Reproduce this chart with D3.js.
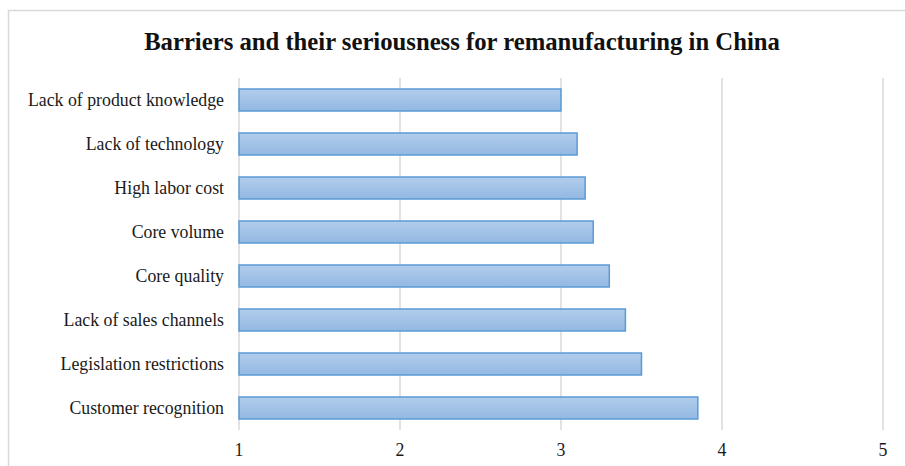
<!DOCTYPE html>
<html>
<head>
<meta charset="utf-8">
<script src="https://cdn.jsdelivr.net/npm/d3@7"></script>
<style>
  body { margin: 0; background: #fff; }
  svg { display: block; }
</style>
</head>
<body>
<div id="chart"></div>
<script>
const categories = [
  "Lack of product knowledge",
  "Lack of technology",
  "High labor cost",
  "Core volume",
  "Core quality",
  "Lack of sales channels",
  "Legislation restrictions",
  "Customer recognition"
];
const values = [3.0, 3.1, 3.15, 3.2, 3.3, 3.4, 3.5, 3.85];
const ticks = [1, 2, 3, 4, 5];

const W = 905, H = 466;
const margin = { top: 78, right: 22, bottom: 36, left: 239 };
const FONT = "'Liberation Serif', 'Times New Roman', serif";

const svg = d3.select("#chart").append("svg")
  .attr("width", W)
  .attr("height", H);

// chart border
svg.append("rect")
  .attr("x", 8.5).attr("y", 10.5)
  .attr("width", W).attr("height", H)
  .attr("fill", "none")
  .attr("stroke", "#d9d9d9")
  .attr("stroke-width", 1.5);

const grad = svg.append("defs").append("linearGradient")
  .attr("id", "barGrad")
  .attr("x1", 0).attr("y1", 0).attr("x2", 0).attr("y2", 1);
grad.append("stop").attr("offset", "0%").attr("stop-color", "#b1cdec");
grad.append("stop").attr("offset", "100%").attr("stop-color", "#93b8e2");

const x = d3.scaleLinear().domain([1, 5]).range([margin.left, W - margin.right]);
const y = d3.scaleBand().domain(categories)
  .range([margin.top, H - margin.bottom])
  .paddingInner(0.5).paddingOuter(0.25);

// gridlines
svg.append("g").selectAll("line")
  .data(ticks)
  .join("line")
  .attr("x1", d => x(d)).attr("x2", d => x(d))
  .attr("y1", margin.top).attr("y2", H - margin.bottom)
  .attr("stroke", "#d9d9d9")
  .attr("stroke-width", 1.5);

// bars
svg.append("g").selectAll("rect")
  .data(categories)
  .join("rect")
  .attr("x", x(1))
  .attr("y", d => y(d))
  .attr("width", (d, i) => x(values[i]) - x(1))
  .attr("height", y.bandwidth())
  .attr("fill", "url(#barGrad)")
  .attr("stroke", "#5b9bd5")
  .attr("stroke-width", 1.5);

// category labels
svg.append("g").selectAll("text")
  .data(categories)
  .join("text")
  .attr("x", margin.left - 15)
  .attr("y", d => y(d) + y.bandwidth() / 2)
  .attr("dy", "0.35em")
  .attr("text-anchor", "end")
  .style("font-family", FONT)
  .style("font-size", "17.8px")
  .style("fill", "#1a1a1a")
  .text(d => d);

// x axis labels
svg.append("g").selectAll("text")
  .data(ticks)
  .join("text")
  .attr("x", d => x(d))
  .attr("y", H - margin.bottom + 26)
  .attr("text-anchor", "middle")
  .style("font-family", FONT)
  .style("font-size", "17.8px")
  .style("fill", "#1a1a1a")
  .text(d => d);

// title
svg.append("text")
  .attr("x", 462)
  .attr("y", 50)
  .attr("text-anchor", "middle")
  .style("font-family", FONT)
  .style("font-size", "24.7px")
  .style("font-weight", "bold")
  .style("fill", "#111")
  .text("Barriers and their seriousness for remanufacturing in China");
</script>
</body>
</html>
